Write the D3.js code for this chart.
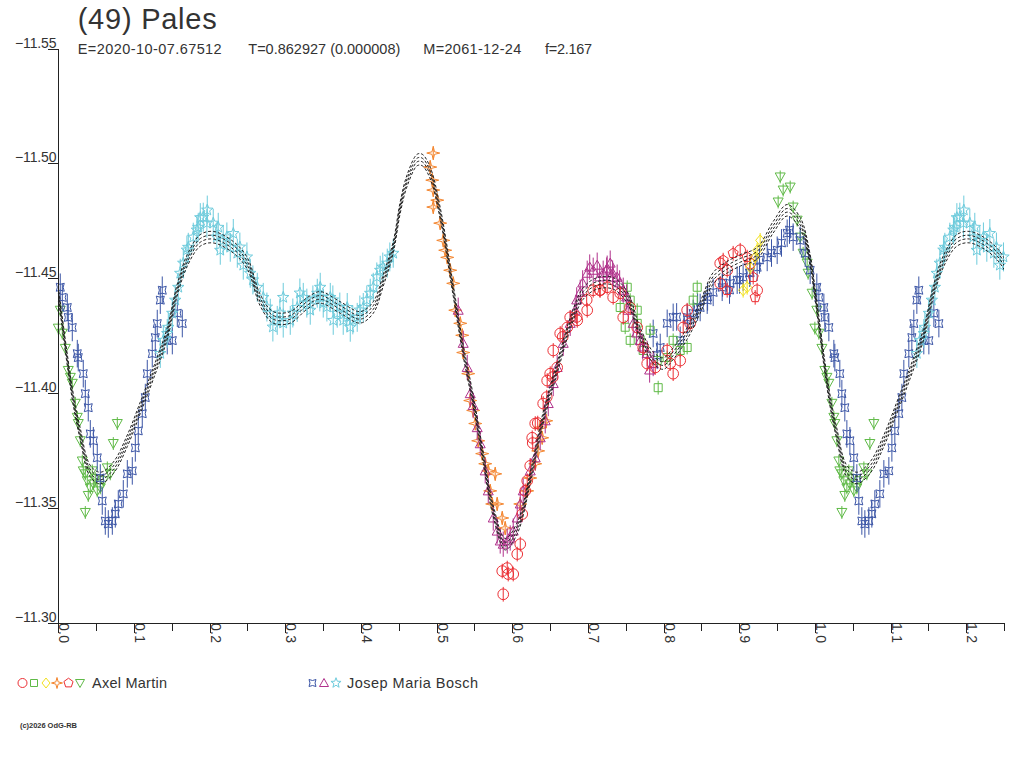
<!DOCTYPE html>
<html>
<head>
<meta charset="utf-8">
<script src="https://cdn.jsdelivr.net/npm/d3@7"></script>
<style>
  body { margin: 0; background: #fff; }
  svg { display: block; }
  text { font-family: "Liberation Sans", Arial, sans-serif; fill: #333; }
</style>
</head>
<body>
<svg id="drawing_region"></svg>
<script>
// ---- chart texts ----
const title = '(49) Pales';
const subtitleParts = ['E=2020-10-07.67512', 'T=0.862927 (0.000008)', 'M=2061-12-24', 'f=2.167'];
const observers = ['Axel Martin', 'Josep Maria Bosch'];
const copyright = '(c)2026 OdG-RB';

// ---- axis ticks ----
const yTicks = [-11.55, -11.50, -11.45, -11.40, -11.35, -11.30];
const xTicks = [0.0, 0.1, 0.2, 0.3, 0.4, 0.5, 0.6, 0.7, 0.8, 0.9, 1.0, 1.1, 1.2];
const xMinorTicks = [0.05, 0.15, 0.25, 0.35, 0.45, 0.55, 0.65, 0.75, 0.85, 0.95, 1.05, 1.15, 1.25];

// ---- fitted light curve [phase, mag] ----
const fitCurve = [
  [0.0000,-11.4439],[0.0185,-11.3998],[0.0290,-11.3823],[0.0420,-11.3662],[0.0555,-11.3631],
  [0.0727,-11.3675],[0.0912,-11.3793],[0.1084,-11.3937],[0.1255,-11.4085],[0.1440,-11.4260],
  [0.1570,-11.4447],[0.1705,-11.4578],[0.1877,-11.4665],[0.2048,-11.4679],[0.2313,-11.4635],
  [0.2498,-11.4565],[0.2670,-11.4404],[0.2840,-11.4330],[0.3066,-11.4330],[0.3290,-11.4391],
  [0.3460,-11.4417],[0.3727,-11.4373],[0.3990,-11.4330],[0.4163,-11.4373],[0.4295,-11.4491],
  [0.4427,-11.4635],[0.4520,-11.4809],[0.4612,-11.4927],[0.4744,-11.5015],[0.4810,-11.5015],
  [0.4916,-11.4958],[0.5048,-11.4783],[0.5220,-11.4447],[0.5352,-11.4186],[0.5484,-11.3967],
  [0.5617,-11.3719],[0.5749,-11.3487],[0.5907,-11.3343],[0.6066,-11.3413],[0.6238,-11.3631],
  [0.6409,-11.3893],[0.6594,-11.4111],[0.6766,-11.4303],[0.6938,-11.4434],[0.7123,-11.4478],
  [0.7334,-11.4478],[0.7520,-11.4417],[0.7691,-11.4260],[0.7863,-11.4155],[0.7995,-11.4129],
  [0.8127,-11.4172],[0.8312,-11.4260],[0.8484,-11.4373],[0.8656,-11.4500],[0.8841,-11.4548],
  [0.9013,-11.4578],[0.9237,-11.4609],[0.9449,-11.4722],[0.9634,-11.4796],[0.9806,-11.4740],
  [0.9938,-11.4578]
];
const fitOffsets = [-0.0025, -0.0008, 0.0008, 0.0025];

// ---- observations [phase, mag] ----
const greenTriangles = [
  [0.9515,-11.4832],[0.9542,-11.4941],[0.9581,-11.4884],[0.9674,-11.4897],[0.9713,-11.4810],
  [0.9766,-11.4753],[0.9806,-11.4679],[0.9845,-11.4609],[0.9898,-11.4566],[0.9911,-11.4522],
  [0.9964,-11.4435],[0.0026,-11.4361],[0.0000,-11.4283],[0.0053,-11.4261],[0.0093,-11.4195],
  [0.0132,-11.4099],[0.0159,-11.4069],[0.0185,-11.4043],[0.0225,-11.3956],[0.0251,-11.3895],
  [0.0264,-11.3868],[0.0291,-11.3793],[0.0317,-11.3705],[0.0330,-11.3662],[0.0357,-11.3649],
  [0.0383,-11.3619],[0.0423,-11.3588],[0.0463,-11.3605],[0.0515,-11.3575],[0.0555,-11.3588],
  [0.0595,-11.3619],[0.0648,-11.3675],[0.0687,-11.3649],[0.0727,-11.3781],[0.0780,-11.3868],
  [0.0357,-11.3481],[0.0396,-11.3555],[0.0489,-11.3628],[0.0449,-11.3662]
];
const blueBowties = [
  [0.0026,-11.4461],[0.0053,-11.4417],[0.0119,-11.4373],[0.0132,-11.4330],[0.0185,-11.4286],
  [0.0251,-11.4172],[0.0264,-11.4155],[0.0330,-11.4085],[0.0357,-11.3998],[0.0396,-11.3937],
  [0.0423,-11.3823],[0.0463,-11.3793],[0.0515,-11.3719],[0.0555,-11.3631],[0.0581,-11.3531],
  [0.0621,-11.3444],[0.0661,-11.3431],[0.0714,-11.3444],[0.0753,-11.3475],[0.0793,-11.3518],
  [0.0859,-11.3562],[0.0912,-11.3649],[0.0978,-11.3662],[0.1018,-11.3762],[0.1057,-11.3836],
  [0.1110,-11.3911],[0.1150,-11.3981],[0.1176,-11.4085],[0.1242,-11.4172],[0.1282,-11.4242],
  [0.1308,-11.4303],[0.1348,-11.4405],[0.1374,-11.4448],[0.1440,-11.4229],[0.1507,-11.4229],
  [0.1573,-11.4348],[0.1639,-11.4303],
  [0.7863,-11.4260],[0.7916,-11.4165],[0.7956,-11.4199],[0.8048,-11.4304],[0.8127,-11.4330],
  [0.8173,-11.4332],[0.8220,-11.4230],[0.8312,-11.4330],[0.8318,-11.4319],[0.8392,-11.4347],
  [0.8450,-11.4375],[0.8484,-11.4373],[0.8577,-11.4405],[0.8582,-11.4419],[0.8656,-11.4439],
  [0.8775,-11.4461],[0.8780,-11.4480],[0.8872,-11.4449],[0.8881,-11.4478],[0.8973,-11.4492],
  [0.9004,-11.4493],[0.9052,-11.4505],[0.9136,-11.4523],[0.9145,-11.4525],[0.9237,-11.4548],
  [0.9268,-11.4580],[0.9370,-11.4591],[0.9427,-11.4610],[0.9502,-11.4622],[0.9559,-11.4654],
  [0.9634,-11.4696],[0.9665,-11.4710],[0.9713,-11.4679],[0.9806,-11.4665],[0.9872,-11.4609],
  [0.9938,-11.4535]
];
const cyanStars = [
  [0.1348,-11.4173],[0.1388,-11.4230],[0.1440,-11.4260],[0.1454,-11.4287],[0.1507,-11.4348],
  [0.1546,-11.4405],[0.1586,-11.4461],[0.1612,-11.4522],[0.1652,-11.4566],[0.1700,-11.4623],
  [0.1718,-11.4635],[0.1784,-11.4679],[0.1832,-11.4710],[0.1850,-11.4722],[0.1877,-11.4764],
  [0.1916,-11.4766],[0.1964,-11.4740],[0.1969,-11.4797],[0.2048,-11.4740],[0.2096,-11.4680],
  [0.2114,-11.4722],[0.2141,-11.4622],[0.2180,-11.4665],[0.2228,-11.4680],[0.2273,-11.4635],
  [0.2313,-11.4695],[0.2366,-11.4609],[0.2400,-11.4636],[0.2445,-11.4557],[0.2493,-11.4593],
  [0.2537,-11.4522],[0.2572,-11.4493],[0.2630,-11.4461],[0.2709,-11.4417],[0.2757,-11.4375],
  [0.2802,-11.4348],[0.2836,-11.4288],[0.2894,-11.4317],[0.2929,-11.4349],[0.2973,-11.4305],
  [0.2973,-11.4417],[0.3066,-11.4317],[0.3100,-11.4349],[0.3158,-11.4373],[0.3193,-11.4436],
  [0.3238,-11.4417],[0.3285,-11.4392],[0.3330,-11.4361],[0.3365,-11.4406],[0.3423,-11.4435],
  [0.3457,-11.4419],[0.3462,-11.4461],[0.3502,-11.4392],[0.3550,-11.4375],[0.3595,-11.4417],
  [0.3629,-11.4406],[0.3634,-11.4317],[0.3687,-11.4348],[0.3721,-11.4375],[0.3766,-11.4317],
  [0.3814,-11.4332],[0.3819,-11.4373],[0.3859,-11.4287],[0.3893,-11.4319],[0.3951,-11.4330],
  [0.3986,-11.4362],[0.4031,-11.4373],[0.4078,-11.4406],[0.4123,-11.4435],[0.4163,-11.4461],
  [0.4210,-11.4506],[0.4255,-11.4535],[0.4289,-11.4549],[0.4348,-11.4566],[0.4382,-11.4593],
  [0.4427,-11.4609]
];
const orangeStars = [
  [0.4956,-11.5045],[0.4916,-11.4984],[0.4943,-11.4927],[0.4956,-11.4884],[0.5009,-11.4840],
  [0.4956,-11.4810],[0.5048,-11.4740],[0.5088,-11.4665],[0.5114,-11.4622],[0.5141,-11.4591],
  [0.5180,-11.4535],[0.5220,-11.4478],[0.5247,-11.4361],[0.5313,-11.4304],[0.5339,-11.4252],
  [0.5352,-11.4177],[0.5418,-11.4085],[0.5445,-11.3968],[0.5484,-11.3925],[0.5511,-11.3868],
  [0.5550,-11.3793],[0.5603,-11.3737],[0.5643,-11.3693],[0.5683,-11.3662],[0.5775,-11.3649],
  [0.5709,-11.3575],[0.5735,-11.3518],[0.5801,-11.3518],[0.5868,-11.3457],[0.5907,-11.3413],
  [0.6106,-11.3518],[0.6198,-11.3575],[0.6238,-11.3631],[0.6304,-11.3693],[0.6343,-11.3749],
  [0.6396,-11.3806],[0.6370,-11.3850],[0.6449,-11.3880]
];
const purpleTriangles = [
  [0.5286,-11.4361],[0.5352,-11.4217],[0.5405,-11.4112],[0.5445,-11.3998],[0.5484,-11.3946],
  [0.5537,-11.3850],[0.5577,-11.3780],[0.5643,-11.3662],[0.5683,-11.3575],[0.5749,-11.3457],
  [0.5801,-11.3400],[0.5841,-11.3357],[0.5881,-11.3343],[0.5934,-11.3357],[0.5973,-11.3370],
  [0.6013,-11.3400],[0.6066,-11.3457],[0.6106,-11.3518],[0.6145,-11.3575],[0.6238,-11.3662],
  [0.6304,-11.3719],[0.6370,-11.3806],[0.6436,-11.3880],[0.6476,-11.3955],[0.6542,-11.4042],
  [0.6594,-11.4112],[0.6674,-11.4217],[0.6766,-11.4304],[0.6832,-11.4361],[0.6852,-11.4406],
  [0.6898,-11.4439],[0.6931,-11.4480],[0.6991,-11.4522],[0.7024,-11.4549],[0.7070,-11.4535],
  [0.7123,-11.4557],[0.7156,-11.4506],[0.7202,-11.4522],[0.7248,-11.4536],[0.7255,-11.4544],
  [0.7295,-11.4566],[0.7327,-11.4523],[0.7334,-11.4505],[0.7387,-11.4505],[0.7420,-11.4480],
  [0.7467,-11.4448],[0.7512,-11.4419],[0.7533,-11.4361],[0.7599,-11.4304],[0.7644,-11.4262],
  [0.7691,-11.4229],[0.7724,-11.4201],[0.7784,-11.4173],[0.7816,-11.4101],[0.7863,-11.4129]
];
const redCircles = [
  [0.5881,-11.3125],[0.5868,-11.3226],[0.5934,-11.3239],[0.5947,-11.3213],[0.6013,-11.3213],
  [0.6066,-11.3300],[0.6106,-11.3343],[0.6132,-11.3474],[0.6172,-11.3575],[0.6198,-11.3619],
  [0.6238,-11.3684],[0.6264,-11.3806],[0.6271,-11.3783],[0.6304,-11.3868],[0.6337,-11.3870],
  [0.6409,-11.3955],[0.6456,-11.3983],[0.6462,-11.4055],[0.6502,-11.4085],[0.6535,-11.4070],
  [0.6542,-11.4186],[0.6594,-11.4112],[0.6634,-11.4260],[0.6667,-11.4245],[0.6727,-11.4286],
  [0.6766,-11.4330],[0.6852,-11.4332],[0.6859,-11.4317],[0.6984,-11.4406],[0.6991,-11.4361],
  [0.7070,-11.4448],[0.7156,-11.4449],[0.7163,-11.4448],[0.7255,-11.4461],[0.7334,-11.4417],
  [0.7427,-11.4435],[0.7467,-11.4330],[0.7559,-11.4373],[0.7652,-11.4286],[0.7731,-11.4199],
  [0.7784,-11.4129],[0.7890,-11.4112],[0.8048,-11.4186],[0.8088,-11.4129],[0.8127,-11.4085],
  [0.8220,-11.4142],[0.8260,-11.4286],[0.8312,-11.4361],[0.8352,-11.4304],[0.8749,-11.4565],
  [0.8841,-11.4535],[0.9013,-11.4622],[0.9145,-11.4565],[0.9237,-11.4448],[0.8749,-11.4478]
];
const redPentagons = [
  [0.8788,-11.4579],[0.8920,-11.4609],[0.9105,-11.4592],[0.9185,-11.4505],[0.9211,-11.4417],
  [0.8841,-11.4448]
];
const greenSquares = [
  [0.7520,-11.4461],[0.7427,-11.4373],[0.7559,-11.4405],[0.7652,-11.4361],[0.7493,-11.4287],
  [0.7652,-11.4304],[0.7559,-11.4230],[0.7691,-11.4230],[0.7823,-11.4274],[0.7731,-11.4186],
  [0.7916,-11.4142],[0.7929,-11.4024],[0.8048,-11.4155],[0.8127,-11.4230],[0.8220,-11.4186],
  [0.8312,-11.4199],[0.8392,-11.4405],[0.8445,-11.4461]
];
const yellowDiamonds = [
  [0.9277,-11.4665],[0.9237,-11.4622],[0.9211,-11.4592],[0.9145,-11.4548],[0.9105,-11.4461],
  [0.9052,-11.4448]
];

// ---- marker shapes ----
function polygon(radii, n, start) {
  const pts = d3.range(n).map(i => {
    const a = start + i * 2 * Math.PI / n;
    const r = radii[i % radii.length];
    return [r * Math.cos(a), r * Math.sin(a)];
  });
  return 'M' + pts.map(p => p[0].toFixed(2) + ',' + p[1].toFixed(2)).join('L') + 'Z';
}
const shapes = {
  circle: d3.symbol(d3.symbolCircle, 90)(),
  square: 'M-4,-4H4V4H-4Z',
  diamond: 'M0,-5.5L4.5,0L0,5.5L-4.5,0Z',
  star4: polygon([6.5, 1.8], 8, -Math.PI / 2),
  pentagon: polygon([5.3], 5, -Math.PI / 2),
  triDown: 'M-5,-4L5,-4L0,5Z',
  bowtie: 'M-4,-4Q0,-1.8 4,-4Q1.8,0 4,4Q0,1.8 -4,4Q-1.8,0 -4,-4Z',
  triUp: 'M0,-5L5,4L-5,4Z',
  star5: polygon([6, 2.5], 10, -Math.PI / 2)
};
const legendShapes = {
  circle: d3.symbol(d3.symbolCircle, 64)(),
  square: 'M-3.5,-3.5H3.5V3.5H-3.5Z',
  diamond: 'M0,-5L4,0L0,5L-4,0Z',
  star4: polygon([5.5, 1.6], 8, -Math.PI / 2),
  pentagon: polygon([4.8], 5, -Math.PI / 2),
  triDown: 'M-4.5,-3.5L4.5,-3.5L0,4.5Z',
  bowtie: 'M-3.5,-3.5Q0,-1.5 3.5,-3.5Q1.5,0 3.5,3.5Q0,1.5 -3.5,3.5Q-1.5,0 -3.5,-3.5Z',
  triUp: 'M0,-4.5L4.5,3.5L-4.5,3.5Z',
  star5: polygon([5.3, 2.2], 10, -Math.PI / 2)
};
const colors = {
  red: '#ec2f34', green: '#5fba47', yellow: '#f3e11c', orange: '#f4852e',
  blue: '#3b55a6', purple: '#b0318b', cyan: '#6dcbdc'
};

// draw order, error bar half length in mag
const series = [
  { data: greenTriangles,  shape: 'triDown',  color: colors.green,  err: 0.0028 },
  { data: blueBowties,     shape: 'bowtie',   color: colors.blue,   err: 0.0060 },
  { data: cyanStars,       shape: 'star5',    color: colors.cyan,   err: 0.0063 },
  { data: greenSquares,    shape: 'square',   color: colors.green,  err: 0.0030 },
  { data: orangeStars,     shape: 'star4',    color: colors.orange, err: 0.0030 },
  { data: purpleTriangles, shape: 'triUp',    color: colors.purple, err: 0.0055 },
  { data: redCircles,      shape: 'circle',   color: colors.red,    err: 0.0032 },
  { data: redPentagons,    shape: 'pentagon', color: colors.red,    err: 0.0032 },
  { data: yellowDiamonds,  shape: 'diamond',  color: colors.yellow, err: 0.0032 }
];

const legendGroups = [
  { name: observers[0], x: 22.5, textX: 92, textLength: 75,
    items: [['circle', colors.red], ['square', colors.green], ['diamond', colors.yellow],
            ['star4', colors.orange], ['pentagon', colors.red], ['triDown', colors.green]] },
  { name: observers[1], x: 312.5, textX: 347, textLength: 131,
    items: [['bowtie', colors.blue], ['triUp', colors.purple], ['star5', colors.cyan]] }
];
const legendSteps = [0, 11.5, 23.5, 34.5, 46, 57.5];

// ---- set up ----
const width = 1024, height = 768;
const svg = d3.select('#drawing_region')
  .attr('width', width)
  .attr('height', height);

const xscale = d3.scaleLinear().domain([0, 1.25]).range([58.3, 1004]);
const yscale = d3.scaleLinear().domain([-11.55, -11.30]).range([48.5, 623]);

svg.append('defs').append('clipPath').attr('id', 'plot_clip')
  .append('rect')
  .attr('x', xscale(0)).attr('y', 30)
  .attr('width', xscale(1.25) - xscale(0)).attr('height', yscale(-11.30) - 30);

// phases 0..0.25 are shown again after 1.0
const withRepeat = (arr, upto) => arr.concat(arr.filter(d => d[0] <= upto).map(d => [d[0] + 1, d[1]]));

// ---- observations ----
const marks = svg.append('g');
series.forEach(s => {
  const pts = withRepeat(s.data, 0.25);
  const g = marks.append('g')
    .attr('stroke', s.color)
    .attr('fill', 'none')
    .attr('stroke-width', 1);
  g.selectAll('line')
    .data(pts)
    .join('line')
    .attr('x1', d => xscale(d[0]))
    .attr('x2', d => xscale(d[0]))
    .attr('y1', d => yscale(d[1] - s.err))
    .attr('y2', d => yscale(d[1] + s.err));
  g.selectAll('path')
    .data(pts)
    .join('path')
    .attr('d', shapes[s.shape])
    .attr('transform', d => `translate(${xscale(d[0])},${yscale(d[1])})`);
});

// ---- fitted curve (four close solutions) ----
const fitPts = withRepeat(fitCurve, 0.27).sort((a, b) => a[0] - b[0]);
const curveGroup = svg.append('g').attr('clip-path', 'url(#plot_clip)');
fitOffsets.forEach(off => {
  const line = d3.line()
    .x(d => xscale(d[0]))
    .y(d => yscale(d[1] + off))
    .curve(d3.curveCatmullRom.alpha(0.5));
  curveGroup.append('path')
    .attr('d', line(fitPts))
    .attr('fill', 'none')
    .attr('stroke', '#222')
    .attr('stroke-width', 1)
    .attr('stroke-dasharray', '3,2');
});

// ---- axes ----
const xaxis_group = svg.append('g')
  .attr('transform', `translate(0, ${yscale(-11.30)})`)
  .call(d3.axisBottom(xscale).tickValues(xTicks).tickSize(10).tickSizeOuter(0).tickFormat(''));
svg.append('g')
  .attr('transform', `translate(0, ${yscale(-11.30)})`)
  .call(d3.axisBottom(xscale).tickValues(xMinorTicks).tickSize(8).tickSizeOuter(0).tickFormat(''))
  .select('.domain').remove();

const yaxis_group = svg.append('g')
  .attr('transform', `translate(${xscale(0)}, 0)`)
  .call(d3.axisLeft(yscale).tickValues(yTicks).tickSize(10).tickSizeOuter(0).tickFormat(d3.format('.2f')));
yaxis_group.selectAll('.tick text')
  .attr('x', -1.8)
  .attr('dy', -1.5)
  .attr('font-size', 14)
  .attr('fill', '#333')
  .attr('font-family', '"Liberation Sans", Arial, sans-serif')
  .attr('textLength', 41.5)
  .attr('lengthAdjust', 'spacing');

svg.selectAll('.domain, .tick line')
  .attr('stroke', '#222')
  .attr('shape-rendering', 'crispEdges');

xaxis_group.selectAll('.xlabel')
  .data(xTicks)
  .join('text')
  .attr('class', 'xlabel')
  .attr('transform', d => `translate(${xscale(d) + 1}, 10) rotate(90)`)
  .attr('font-size', 14)
  .attr('fill', '#333')
  .attr('textLength', 20)
  .attr('lengthAdjust', 'spacing')
  .text(d => d3.format('.1f')(d));

// ---- titles ----
svg.append('text')
  .attr('x', 77.7).attr('y', 28.5)
  .attr('font-size', 29)
  .attr('fill', '#222')
  .attr('textLength', 139)
  .attr('lengthAdjust', 'spacing')
  .text(title);

const subX = [77.7, 248.3, 423.3, 545];
const subLen = [144, 152, 98, 47];
svg.selectAll('.subtitle')
  .data(subtitleParts)
  .join('text')
  .attr('class', 'subtitle')
  .attr('x', (d, i) => subX[i])
  .attr('y', 53.5)
  .attr('font-size', 14.5)
  .attr('textLength', (d, i) => subLen[i])
  .attr('lengthAdjust', 'spacing')
  .text(d => d);

// ---- legend ----
legendGroups.forEach(lg => {
  const g = svg.append('g');
  lg.items.forEach((it, i) => {
    g.append('path')
      .attr('d', legendShapes[it[0]])
      .attr('transform', `translate(${lg.x + legendSteps[i]}, 683)`)
      .attr('fill', 'none')
      .attr('stroke', it[1])
      .attr('stroke-width', 1);
  });
  g.append('text')
    .attr('x', lg.textX).attr('y', 688)
    .attr('font-size', 14.5)
    .attr('textLength', lg.textLength)
    .attr('lengthAdjust', 'spacing')
    .text(lg.name);
});

svg.append('text')
  .attr('x', 20).attr('y', 728)
  .attr('font-size', 7.5)
  .attr('font-weight', 'bold')
  .attr('fill', '#444')
  .attr('textLength', 57)
  .attr('lengthAdjust', 'spacing')
  .text(copyright);
</script>
</body>
</html>
